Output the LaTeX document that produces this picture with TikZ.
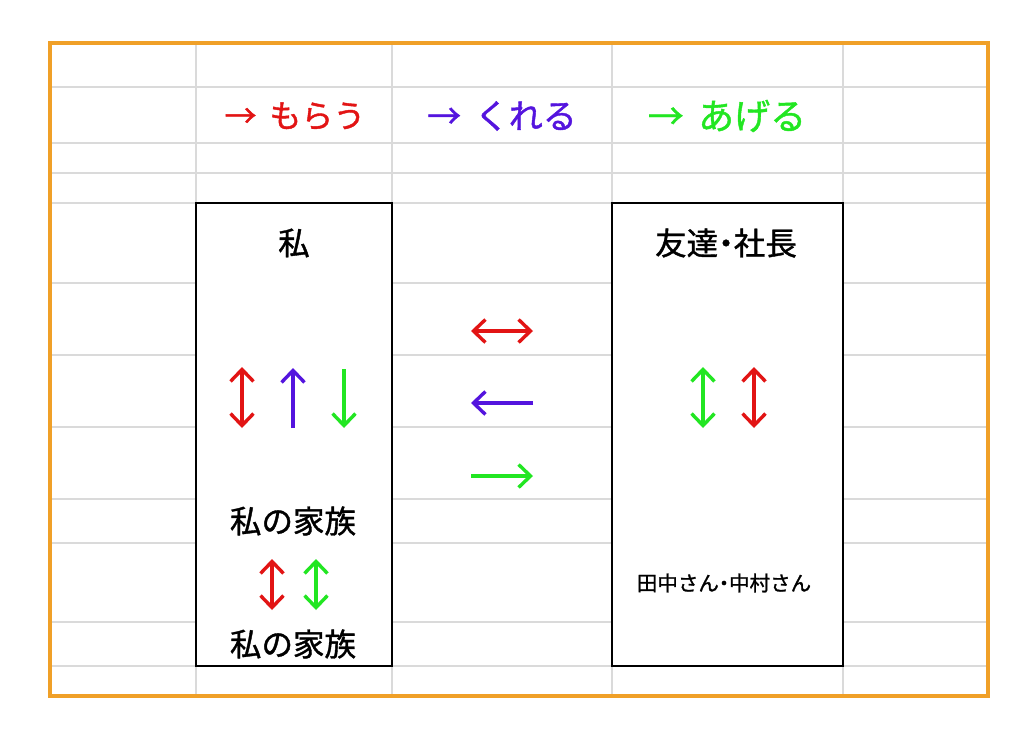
\documentclass[tikz,border=0pt]{standalone}
\usepackage{fontspec}
\setmainfont{Noto Sans CJK JP}[FakeBold=1.2]
\usetikzlibrary{arrows.meta}
\newcommand{\middot}{{\addfontfeature{RawFeature=+palt}・}}
\tikzstyle{gridline}=[draw=mygrid, line width=1.5pt]
\tikzstyle{frame}=[draw=myorange, line width=3.5pt]
\tikzstyle{box}=[draw=black, fill=white, line width=1.5pt]
\tikzstyle{heading}=[inner sep=0pt]
\tikzstyle{person}=[inner sep=0pt, font=\fontsize{31.5}{38}\selectfont]
\tikzstyle{smalltext}=[inner sep=0pt, font=\fontsize{20.5}{24}\selectfont]
\tikzstyle{arw}=[line width=3.4pt, -{Straight Barb[length=12pt,width=23pt]}]
\tikzstyle{darw}=[line width=3.4pt, {Straight Barb[length=12pt,width=23pt]}-{Straight Barb[length=12pt,width=23pt]}]
\definecolor{myred}{RGB}{226,20,20}
\definecolor{mypurple}{RGB}{84,20,222}
\definecolor{mygreen}{RGB}{34,230,34}
\definecolor{myorange}{RGB}{240,160,40}
\definecolor{mygrid}{RGB}{218,218,218}

\begin{document}
\begin{tikzpicture}[x=1pt, y=-1pt]
\useasboundingbox (0,0) rectangle (1024,733);
% sheet grid
\draw[gridline] (50,87) -- (988,87);
\draw[gridline] (50,143) -- (988,143);
\draw[gridline] (50,173) -- (988,173);
\draw[gridline] (50,203) -- (988,203);
\draw[gridline] (50,283) -- (988,283);
\draw[gridline] (50,355) -- (988,355);
\draw[gridline] (50,427) -- (988,427);
\draw[gridline] (50,499) -- (988,499);
\draw[gridline] (50,543) -- (988,543);
\draw[gridline] (50,622) -- (988,622);
\draw[gridline] (50,666) -- (988,666);
\draw[gridline] (196,43) -- (196,696);
\draw[gridline] (392,43) -- (392,696);
\draw[gridline] (612,43) -- (612,696);
\draw[gridline] (843,43) -- (843,696);
\draw[frame] (50,43) rectangle (988,696);
% boxes
\draw[box] (196,203) rectangle (392,666);
\draw[box] (612,203) rectangle (843,666);
% headings
\draw (295,116) node [heading, text=myred, font=\fontsize{32}{38}\selectfont] (morau) {→\hspace{0.4em}もらう};
\draw (502,116) node [heading, text=mypurple, font=\fontsize{34}{40}\selectfont] (kureru) {→\hspace{0.4em}くれる};
\draw (727,116) node [heading, text=mygreen, font=\fontsize{36}{42}\selectfont] (ageru) {→\hspace{0.4em}あげる};
\draw (294,243) node [person] (watashi) {私};
\draw (726,243) node [person] (tomodachi) {友達\middot 社長};
\draw (293,521) node [person] (kazoku1) {私の家族};
\draw (293,644) node [person] (kazoku2) {私の家族};
\draw (724,583) node [smalltext] (tanaka) {田中さん\middot 中村さん};
% arrow ends
\coordinate (w1t) at (242,367);
\coordinate (w1b) at (242,428);
\coordinate (w2t) at (293,368);
\coordinate (w2b) at (293,428);
\coordinate (w3t) at (344,369);
\coordinate (w3b) at (344,428);
\coordinate (m1l) at (471,331);
\coordinate (m1r) at (533,331);
\coordinate (m2l) at (471,403);
\coordinate (m2r) at (533,403);
\coordinate (m3l) at (471,476);
\coordinate (m3r) at (533,476);
\coordinate (t1t) at (703,367);
\coordinate (t1b) at (703,428);
\coordinate (t2t) at (754,367);
\coordinate (t2b) at (754,428);
\coordinate (k1t) at (272,559);
\coordinate (k1b) at (272,610);
\coordinate (k2t) at (316,559);
\coordinate (k2b) at (316,610);
% arrows
\draw[darw, myred] (w1t) -- (w1b);
\draw[arw, mypurple] (w2b) -- (w2t);
\draw[arw, mygreen] (w3t) -- (w3b);
\draw[darw, myred] (m1l) -- (m1r);
\draw[arw, mypurple] (m2r) -- (m2l);
\draw[arw, mygreen] (m3l) -- (m3r);
\draw[darw, mygreen] (t1t) -- (t1b);
\draw[darw, myred] (t2t) -- (t2b);
\draw[darw, myred] (k1t) -- (k1b);
\draw[darw, mygreen] (k2t) -- (k2b);
\end{tikzpicture}
\end{document}
